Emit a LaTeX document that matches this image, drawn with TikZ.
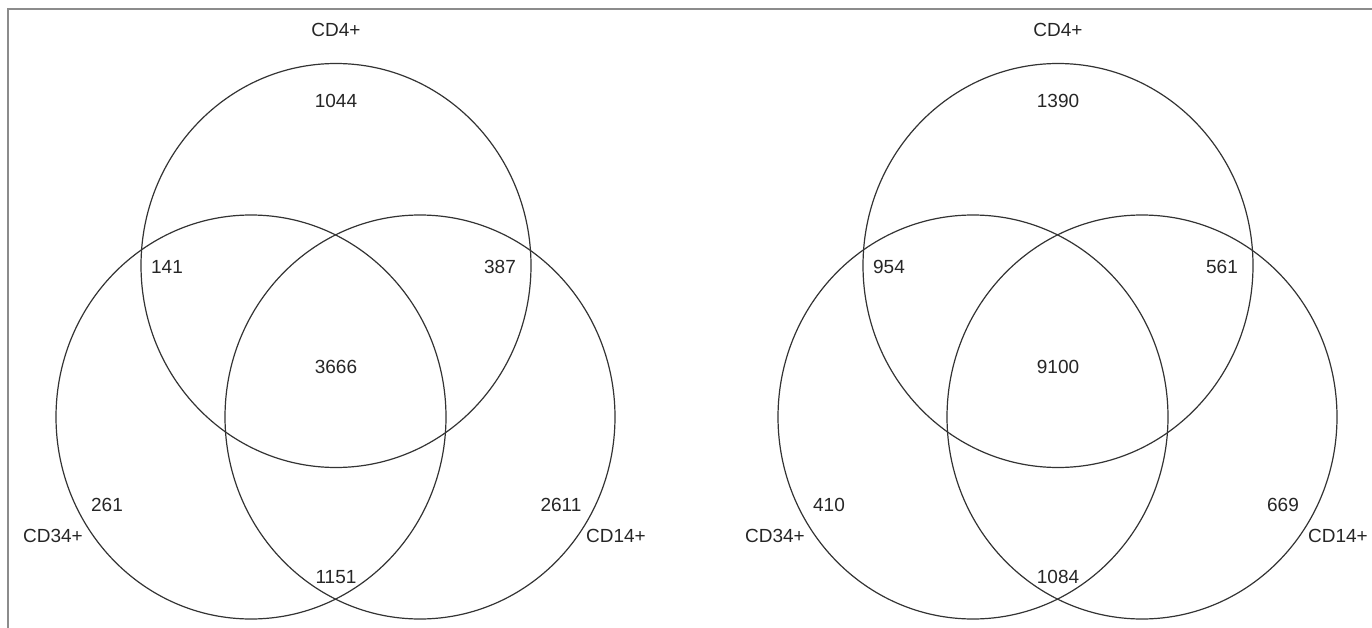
\documentclass[tikz,border=0pt]{standalone}
\usepackage{fontspec}
\setmainfont{Liberation Sans}
\usetikzlibrary{shapes.geometric}
\begin{document}
\begin{tikzpicture}[x=1pt,y=-1pt,
  vcirc/.style={draw=black!80,line width=1.2pt,ellipse,minimum width=390pt,minimum height=404pt,inner sep=0pt},
  lbl/.style={font=\fontsize{19}{22}\selectfont,inner sep=0pt,text=black!85},
  frame/.style={draw=black!45,line width=1.5pt}]
\useasboundingbox (0,0) rectangle (1372,628);
\coordinate (fa) at (8,628);
\coordinate (fb) at (8,9);
\coordinate (fc) at (1372,9);
\draw[frame] (fa) -- (fb) -- (fc);
\foreach \dx/\nm/\aa/\ab/\ac/\ad/\ae/\af/\ag in {0/L/1044/141/387/3666/261/2611/1151, 722/R/1390/954/561/9100/410/669/1084}{
  \begin{scope}[xshift=\dx]
  \node[vcirc] (\nm top) at (336,265.5) {};
  \node[vcirc] (\nm left) at (251,417) {};
  \node[vcirc] (\nm right) at (420,417) {};
  \node[lbl] (\nm cdf) at (336,30) {CD4+};
  \node[lbl] (\nm cdt) at (53,536) {CD34+};
  \node[lbl] (\nm cdo) at (616,536) {CD14+};
  \node[lbl] (\nm a) at (336,101) {\aa};
  \node[lbl] (\nm b) at (167,267) {\ab};
  \node[lbl] (\nm c) at (500,267) {\ac};
  \node[lbl] (\nm d) at (336,367) {\ad};
  \node[lbl] (\nm e) at (107,505) {\ae};
  \node[lbl] (\nm f) at (561,505) {\af};
  \node[lbl] (\nm g) at (336,577) {\ag};
  \end{scope}
}
\end{tikzpicture}
\end{document}
